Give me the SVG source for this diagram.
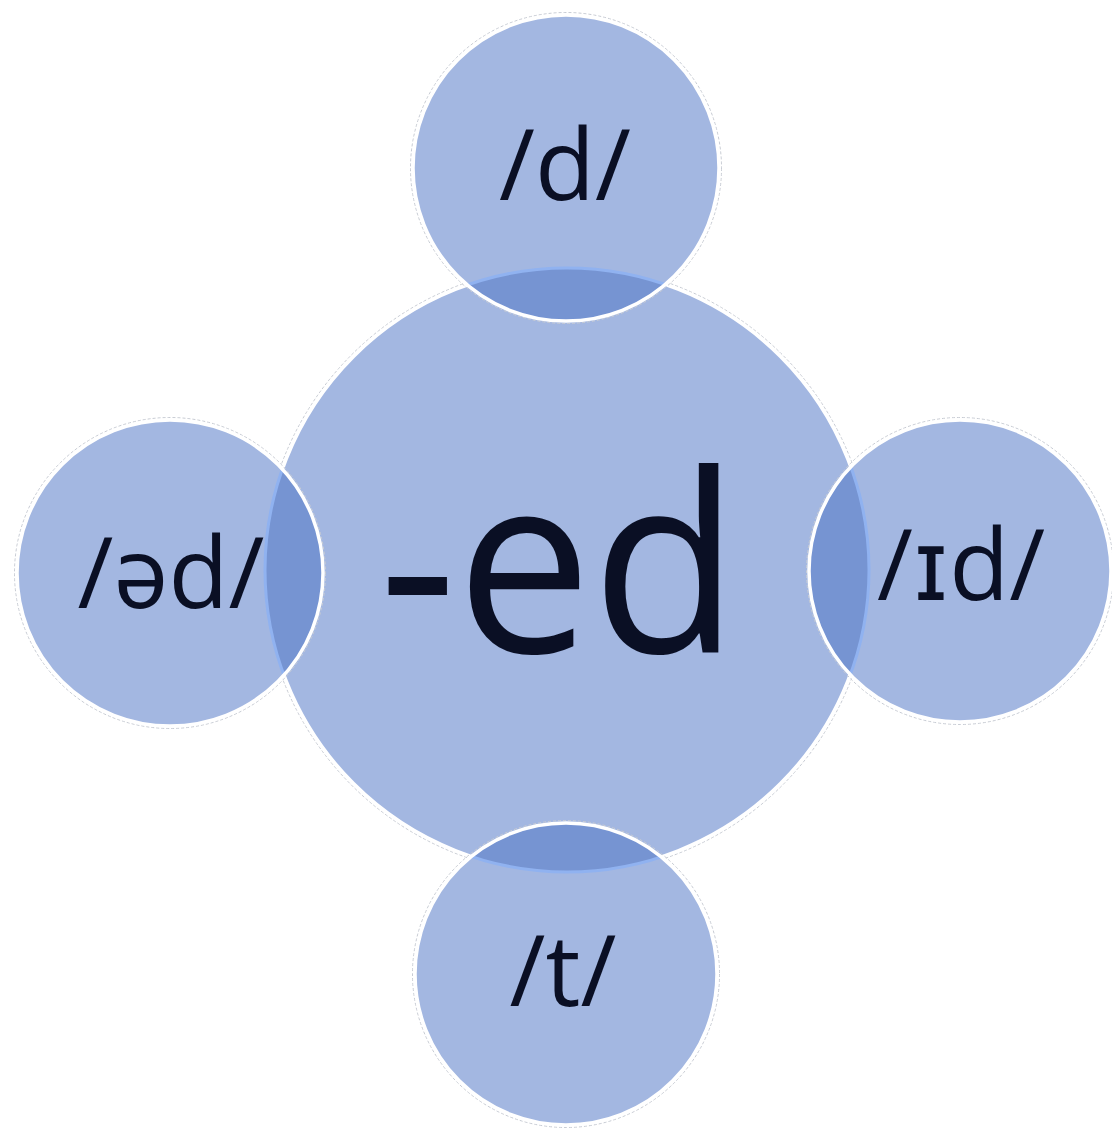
<svg xmlns="http://www.w3.org/2000/svg" width="1112" height="1128" viewBox="0 0 1112 1128">
  <style>
    .fill { fill: #a3b7e1; }
    .edge { fill: none; stroke: #ffffff; stroke-width: 3.5; }
    .shadow { fill: none; stroke: #c8ccd4; stroke-width: 1; stroke-dasharray: 3 2; }
    .overlap { fill: #7694d2; }
    .inner { fill: none; stroke: #90b2f0; stroke-width: 3; }
    .lbl { font-family: "Open Sans", "DejaVu Sans", sans-serif; fill: #0a0f24; text-anchor: middle; }
  </style>
  <defs>
    <clipPath id="clipCenter"><circle cx="567" cy="570" r="302"/></clipPath>
    <clipPath id="clipTop"><circle cx="566" cy="168" r="153"/></clipPath>
    <clipPath id="clipLeft"><circle cx="170" cy="573" r="153"/></clipPath>
    <clipPath id="clipRight"><circle cx="960" cy="571" r="151"/></clipPath>
    <clipPath id="clipBottom"><circle cx="566" cy="974" r="151"/></clipPath>
  </defs>
  <rect width="1112" height="1128" fill="#ffffff"/>
  <g id="connectors"/>
  <g id="node-center">
    <circle cx="567" cy="570" r="304.5" class="shadow"/>
    <circle cx="567" cy="570" r="302" class="fill"/>
    <circle cx="567" cy="570" r="302" class="edge"/>
    <text x="559" y="653" class="lbl" font-size="250" textLength="360" lengthAdjust="spacingAndGlyphs">-ed</text>
  </g>
  <g id="node-top">
    <circle cx="566" cy="168" r="155.5" class="shadow"/>
    <circle cx="566" cy="168" r="153" class="fill"/>
    <circle cx="566" cy="168" r="153" class="overlap" clip-path="url(#clipCenter)"/>
    <circle cx="567" cy="570" r="302" class="inner" clip-path="url(#clipTop)"/>
    <circle cx="566" cy="168" r="153" class="edge"/>
    <text x="565" y="200" class="lbl" font-size="98">/d/</text>
  </g>
  <g id="node-left">
    <circle cx="170" cy="573" r="155.5" class="shadow"/>
    <circle cx="170" cy="573" r="153" class="fill"/>
    <circle cx="170" cy="573" r="153" class="overlap" clip-path="url(#clipCenter)"/>
    <circle cx="567" cy="570" r="302" class="inner" clip-path="url(#clipLeft)"/>
    <circle cx="170" cy="573" r="153" class="edge"/>
    <text x="171" y="608" class="lbl" font-size="98">/əd/</text>
  </g>
  <g id="node-right">
    <circle cx="960" cy="571" r="153.5" class="shadow"/>
    <circle cx="960" cy="571" r="151" class="fill"/>
    <circle cx="960" cy="571" r="151" class="overlap" clip-path="url(#clipCenter)"/>
    <circle cx="567" cy="570" r="302" class="inner" clip-path="url(#clipRight)"/>
    <circle cx="960" cy="571" r="151" class="edge"/>
    <text x="961" y="600" class="lbl" font-size="98">/ɪd/</text>
  </g>
  <g id="node-bottom">
    <circle cx="566" cy="974" r="153.5" class="shadow"/>
    <circle cx="566" cy="974" r="151" class="fill"/>
    <circle cx="566" cy="974" r="151" class="overlap" clip-path="url(#clipCenter)"/>
    <circle cx="567" cy="570" r="302" class="inner" clip-path="url(#clipBottom)"/>
    <circle cx="566" cy="974" r="151" class="edge"/>
    <text x="563" y="1006" class="lbl" font-size="98">/t/</text>
  </g>
</svg>
